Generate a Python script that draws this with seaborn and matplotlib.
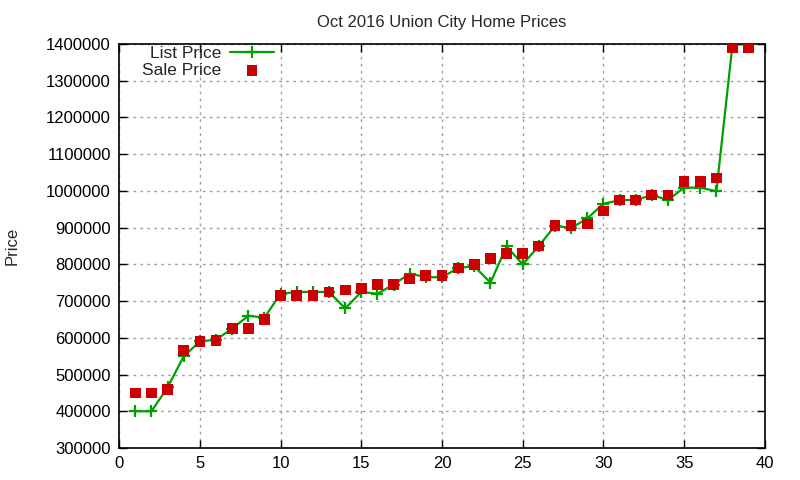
import numpy as np
import pandas as pd
import seaborn as sns
import matplotlib
matplotlib.use("Agg")
import matplotlib.pyplot as plt

homes = list(range(1, 40))
list_price = [400000, 400000, 465000, 550000, 590000, 595000, 625000, 660000, 655000, 720000,
              725000, 725000, 725000, 680000, 725000, 720000, 745000, 775000, 765000, 765000,
              790000, 795000, 750000, 849000, 800000, 850000, 905000, 899000, 925000, 965000,
              975000, 975000, 989000, 975000, 1009000, 1009000, 999000, 1399000, 1399000]
sale_price = [450000, 450000, 460000, 565000, 590000, 592000, 625000, 625000, 650000, 715000,
              715000, 715000, 725000, 730000, 735000, 745000, 745000, 760000, 770000, 770000,
              790000, 799000, 815000, 830000, 830000, 850000, 905000, 905000, 910000, 945000,
              975000, 975000, 989000, 989000, 1025000, 1025000, 1035000, 1389000, 1389000]


def main():
    df = pd.DataFrame({"home": homes, "list": list_price, "sale": sale_price})

    sns.set_style("ticks")
    plt.rcParams['font.family'] = ['Liberation Sans', 'DejaVu Sans']

    fig = plt.figure(figsize=(8, 4.8), dpi=100)
    ax = fig.add_axes([0.149, 0.0667, 0.807, 0.8416])

    green = "#00a000"
    sns.lineplot(data=df, x="home", y="list", ax=ax, color=green, linewidth=1.6,
                 marker="+", markersize=9, markeredgewidth=1.6, markeredgecolor=green,
                 label="List Price")
    sns.scatterplot(data=df, x="home", y="sale", ax=ax, color="#cc0000", marker="s",
                    s=60, edgecolor="none", label="Sale Price", zorder=3)

    ax.set_xlim(0, 40)
    ax.set_ylim(300000, 1400000)
    ax.set_xticks(range(0, 41, 5))
    ax.set_yticks(range(300000, 1400001, 100000))
    ax.set_yticklabels([str(v) for v in range(300000, 1400001, 100000)])
    ax.grid(True, color="#a0a0a0", linestyle=(0, (2, 3)), linewidth=1)
    ax.tick_params(direction="in", top=True, right=True, length=6, width=1,
                   labelsize=12, colors="black", pad=6)
    for s in ax.spines.values():
        s.set_linewidth(1.2)
        s.set_color("black")

    ax.set_xlabel("")
    ax.set_ylabel("Price", fontsize=12, labelpad=19)
    ax.set_title("Oct 2016 Union City Home Prices", fontsize=12, pad=12)

    ax.legend(loc="upper left", bbox_to_anchor=(0.017, 1.025), frameon=False, markerfirst=False,
              fontsize=12.5, handlelength=2.5, handletextpad=0.5, labelspacing=0.1,
              borderaxespad=0.3)

    fig.savefig("out.png", dpi=100)
    plt.close(fig)


if __name__ == "__main__":
    main()
